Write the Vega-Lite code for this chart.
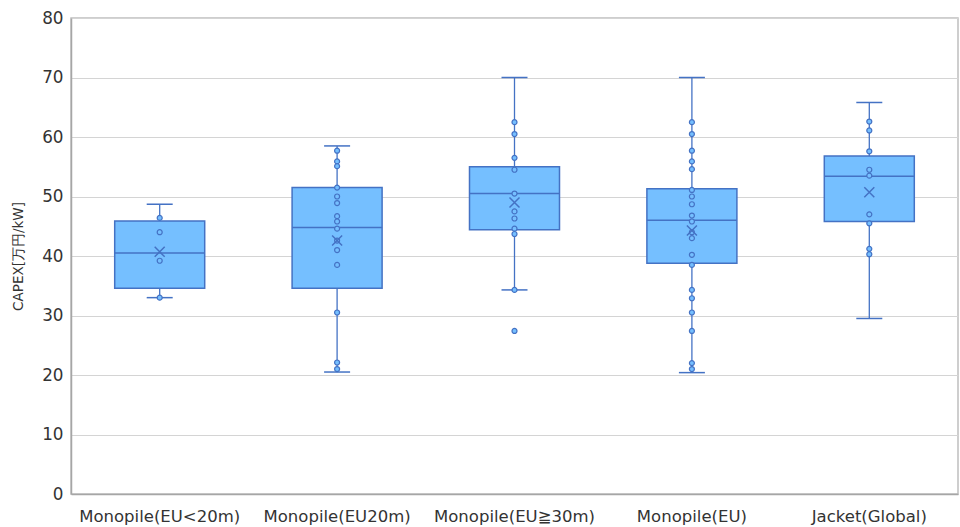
{
  "$schema": "https://vega.github.io/schema/vega-lite/v6.json",
  "width": 887,
  "height": 476,
  "autosize": {"type": "none"},
  "padding": {"left": 71, "top": 18, "right": 2, "bottom": 33},
  "background": "white",
  "config": {
    "view": {"stroke": "#bfbfbf", "strokeWidth": 1.5},
    "font": "DejaVu Sans",
    "axisY": {
      "grid": true,
      "gridColor": "#d4d4d4",
      "gridWidth": 1,
      "domainColor": "#a6a6a6",
      "domainWidth": 1.5,
      "ticks": false,
      "labelFontSize": 16.8,
      "labelColor": "#333333",
      "labelPadding": 8,
      "titleFont": "DejaVu Sans",
      "titleFontSize": 13.5,
      "titleFontWeight": "normal",
      "titleColor": "#333333",
      "titleX": -53,
      "titleY": 238,
      "titleBaseline": "middle"
    }
  },
  "datasets": {
    "summary": [
      {"cat": "Monopile(EU<20m)", "low": 33.0, "q1": 34.6, "med": 40.5, "q3": 45.9, "high": 48.7, "mean": 40.7},
      {"cat": "Monopile(EU20m)", "low": 20.5, "q1": 34.6, "med": 44.8, "q3": 51.5, "high": 58.5, "mean": 42.6},
      {"cat": "Monopile(EU≧30m)", "low": 34.3, "q1": 44.4, "med": 50.5, "q3": 55.0, "high": 70.0, "mean": 49.0},
      {"cat": "Monopile(EU)", "low": 20.4, "q1": 38.8, "med": 46.0, "q3": 51.3, "high": 70.0, "mean": 44.3},
      {"cat": "Jacket(Global)", "low": 29.5, "q1": 45.8, "med": 53.4, "q3": 56.8, "high": 65.8, "mean": 50.7}
    ],
    "points": [
      {"cat": "Monopile(EU<20m)", "v": 46.4},
      {"cat": "Monopile(EU<20m)", "v": 44.0},
      {"cat": "Monopile(EU<20m)", "v": 39.2},
      {"cat": "Monopile(EU<20m)", "v": 33.0},
      {"cat": "Monopile(EU20m)", "v": 57.7},
      {"cat": "Monopile(EU20m)", "v": 55.9},
      {"cat": "Monopile(EU20m)", "v": 55.1},
      {"cat": "Monopile(EU20m)", "v": 51.5},
      {"cat": "Monopile(EU20m)", "v": 50.0},
      {"cat": "Monopile(EU20m)", "v": 48.9},
      {"cat": "Monopile(EU20m)", "v": 46.7},
      {"cat": "Monopile(EU20m)", "v": 45.8},
      {"cat": "Monopile(EU20m)", "v": 44.6},
      {"cat": "Monopile(EU20m)", "v": 42.6},
      {"cat": "Monopile(EU20m)", "v": 41.0},
      {"cat": "Monopile(EU20m)", "v": 38.5},
      {"cat": "Monopile(EU20m)", "v": 30.5},
      {"cat": "Monopile(EU20m)", "v": 22.1},
      {"cat": "Monopile(EU20m)", "v": 21.0},
      {"cat": "Monopile(EU≧30m)", "v": 62.5},
      {"cat": "Monopile(EU≧30m)", "v": 60.5},
      {"cat": "Monopile(EU≧30m)", "v": 56.5},
      {"cat": "Monopile(EU≧30m)", "v": 54.5},
      {"cat": "Monopile(EU≧30m)", "v": 50.5},
      {"cat": "Monopile(EU≧30m)", "v": 47.5},
      {"cat": "Monopile(EU≧30m)", "v": 46.3},
      {"cat": "Monopile(EU≧30m)", "v": 44.6},
      {"cat": "Monopile(EU≧30m)", "v": 43.7},
      {"cat": "Monopile(EU≧30m)", "v": 34.3},
      {"cat": "Monopile(EU≧30m)", "v": 27.4},
      {"cat": "Monopile(EU)", "v": 62.5},
      {"cat": "Monopile(EU)", "v": 60.5},
      {"cat": "Monopile(EU)", "v": 57.7},
      {"cat": "Monopile(EU)", "v": 55.9},
      {"cat": "Monopile(EU)", "v": 54.6},
      {"cat": "Monopile(EU)", "v": 51.1},
      {"cat": "Monopile(EU)", "v": 50.0},
      {"cat": "Monopile(EU)", "v": 48.7},
      {"cat": "Monopile(EU)", "v": 46.8},
      {"cat": "Monopile(EU)", "v": 45.8},
      {"cat": "Monopile(EU)", "v": 44.0},
      {"cat": "Monopile(EU)", "v": 43.0},
      {"cat": "Monopile(EU)", "v": 40.2},
      {"cat": "Monopile(EU)", "v": 38.5},
      {"cat": "Monopile(EU)", "v": 34.3},
      {"cat": "Monopile(EU)", "v": 32.9},
      {"cat": "Monopile(EU)", "v": 30.5},
      {"cat": "Monopile(EU)", "v": 27.4},
      {"cat": "Monopile(EU)", "v": 22.0},
      {"cat": "Monopile(EU)", "v": 21.0},
      {"cat": "Jacket(Global)", "v": 62.6},
      {"cat": "Jacket(Global)", "v": 61.1},
      {"cat": "Jacket(Global)", "v": 57.6},
      {"cat": "Jacket(Global)", "v": 54.5},
      {"cat": "Jacket(Global)", "v": 53.5},
      {"cat": "Jacket(Global)", "v": 47.0},
      {"cat": "Jacket(Global)", "v": 45.5},
      {"cat": "Jacket(Global)", "v": 41.2},
      {"cat": "Jacket(Global)", "v": 40.3}
    ]
  },
  "encoding": {
    "x": {
      "field": "cat",
      "type": "nominal",
      "sort": ["Monopile(EU<20m)", "Monopile(EU20m)", "Monopile(EU≧30m)", "Monopile(EU)", "Jacket(Global)"],
      "scale": {"paddingInner": 0, "paddingOuter": 0},
      "axis": {
        "title": null,
        "labelAngle": 0,
        "ticks": false,
        "domainColor": "#a6a6a6",
        "domainWidth": 1.5,
        "labelFontSize": 16.5,
        "labelColor": "#333333",
        "labelPadding": 14,
        "grid": false
      }
    }
  },
  "layer": [
    {
      "data": {"name": "summary"},
      "mark": {"type": "rule", "color": "#4472C4", "strokeWidth": 1.3},
      "encoding": {
        "y": {
          "field": "low",
          "type": "quantitative",
          "title": "CAPEX[万円/kW]",
          "scale": {"domain": [0, 80], "nice": false, "zero": true},
          "axis": {"values": [0, 10, 20, 30, 40, 50, 60, 70, 80]}
        },
        "y2": {"field": "high"}
      }
    },
    {
      "data": {"name": "summary"},
      "mark": {"type": "bar", "size": 90, "fill": "#75BFFF", "stroke": "#4472C4", "strokeWidth": 1.5},
      "encoding": {
        "y": {"field": "q1", "type": "quantitative", "title": "CAPEX[万円/kW]", "axis": {"values": [0, 10, 20, 30, 40, 50, 60, 70, 80]}},
        "y2": {"field": "q3"}
      }
    },
    {
      "data": {"name": "summary"},
      "mark": {"type": "tick", "size": 90, "thickness": 1.5, "color": "#4472C4", "opacity": 1},
      "encoding": {"y": {"field": "med", "type": "quantitative", "title": "CAPEX[万円/kW]", "axis": {"values": [0, 10, 20, 30, 40, 50, 60, 70, 80]}}}
    },
    {
      "data": {"name": "summary"},
      "mark": {"type": "tick", "size": 26, "thickness": 1.5, "color": "#4472C4", "opacity": 1},
      "encoding": {"y": {"field": "low", "type": "quantitative", "title": "CAPEX[万円/kW]", "axis": {"values": [0, 10, 20, 30, 40, 50, 60, 70, 80]}}}
    },
    {
      "data": {"name": "summary"},
      "mark": {"type": "tick", "size": 26, "thickness": 1.5, "color": "#4472C4", "opacity": 1},
      "encoding": {"y": {"field": "high", "type": "quantitative", "title": "CAPEX[万円/kW]", "axis": {"values": [0, 10, 20, 30, 40, 50, 60, 70, 80]}}}
    },
    {
      "data": {"name": "points"},
      "mark": {"type": "point", "shape": "circle", "size": 25, "filled": true, "fill": "#75BFFF", "stroke": "#4472C4", "strokeWidth": 1.2, "opacity": 1},
      "encoding": {"y": {"field": "v", "type": "quantitative", "title": "CAPEX[万円/kW]", "axis": {"values": [0, 10, 20, 30, 40, 50, 60, 70, 80]}}}
    },
    {
      "data": {"name": "summary"},
      "mark": {"type": "point", "shape": "M-1,-1L1,1M1,-1L-1,1", "size": 100, "filled": false, "stroke": "#4472C4", "strokeWidth": 1.5, "opacity": 1},
      "encoding": {"y": {"field": "mean", "type": "quantitative", "title": "CAPEX[万円/kW]", "axis": {"values": [0, 10, 20, 30, 40, 50, 60, 70, 80]}}}
    }
  ]
}
